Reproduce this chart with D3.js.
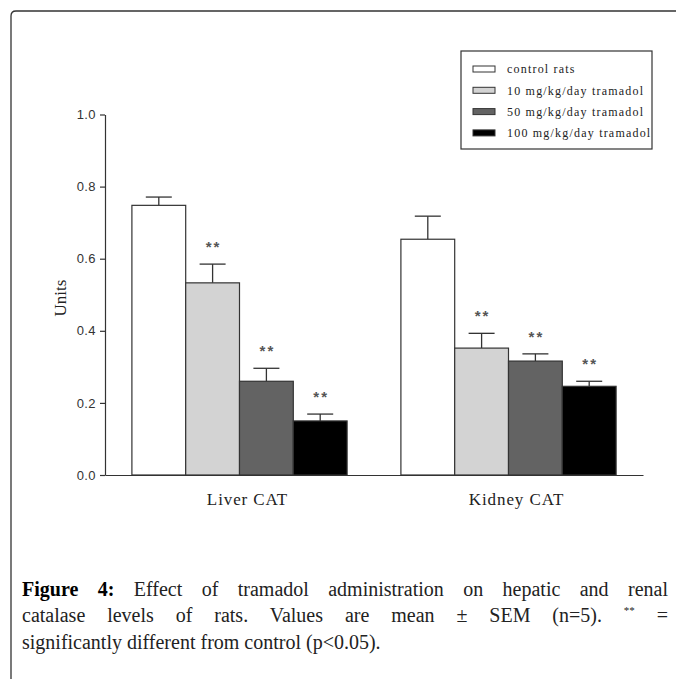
<!DOCTYPE html>
<html>
<head>
<meta charset="utf-8">
<script src="https://cdn.jsdelivr.net/npm/d3@7"></script>
<style>
  body { margin: 0; background: #fff; }
  svg { display: block; }
</style>
</head>
<body>
<script>
// data
var groups = ["Liver CAT", "Kidney CAT"];
var treatments = ["control rats", "10 mg/kg/day tramadol", "50 mg/kg/day tramadol", "100 mg/kg/day tramadol"];
var liverMean = [0.748, 0.533, 0.260, 0.150];
var liverSem = [0.023, 0.052, 0.036, 0.019];
var kidneyMean = [0.654, 0.352, 0.316, 0.246];
var kidneySem = [0.064, 0.041, 0.020, 0.014];
var signif = [false, true, true, true];
var yTicks = [0, 0.2, 0.4, 0.6, 0.8, 1.0];
var fills = ["#ffffff", "#d3d3d3", "#636363", "#000000"];

var captionLines = [
  "Effect of tramadol administration on hepatic and renal",
  "catalase levels of rats. Values are mean ± SEM (n=5).",
  "significantly different from control (p<0.05)."
];

var W = 676, H = 679;
var svg = d3.select("body").append("svg").attr("width", W).attr("height", H);

// frame (top + left with rounded corner)
svg.append("path")
  .attr("d", "M11,679 L11,16 Q11,11 16,11 L676,11")
  .attr("fill", "none").attr("stroke", "#333").attr("stroke-width", 1.3);

var rows = [];
groups.forEach(function(g, gi) {
  var m = gi == 0 ? liverMean : kidneyMean;
  var s = gi == 0 ? liverSem : kidneySem;
  treatments.forEach(function(t, ti) {
    rows.push({group: g, t: t, ti: ti, mean: m[ti], sem: s[ti], sig: signif[ti]});
  });
});

var y = d3.scaleLinear().domain([0, 1]).range([475, 114.5]);
var x0 = d3.scaleBand().domain(groups).range([105, 643]).paddingInner(0.2).paddingOuter(0.1);
var x1 = d3.scaleBand().domain(treatments).range([0, x0.bandwidth()]);

// y axis
var yAxis = svg.append("g").attr("transform", "translate(105,0)")
  .call(d3.axisLeft(y).tickValues(yTicks).tickFormat(d3.format(".1f")).tickSize(5).tickSizeOuter(0));
yAxis.select(".domain").attr("stroke", "#333").attr("stroke-width", 1.2);
yAxis.selectAll(".tick line").attr("stroke", "#333").attr("stroke-width", 1.2);
yAxis.selectAll(".tick text")
  .attr("font-family", "Liberation Sans, Arial, sans-serif").attr("font-size", 13)
  .attr("letter-spacing", 0.4)
  .attr("fill", "#333").attr("x", -9);

// x axis
var xAxis = svg.append("g").attr("transform", "translate(0,475)")
  .call(d3.axisBottom(x0).tickSize(0).tickSizeOuter(0));
xAxis.select(".domain").attr("stroke", "#333").attr("stroke-width", 1.2);
xAxis.selectAll(".tick text")
  .attr("font-family", "Liberation Serif, Times New Roman, serif").attr("font-size", 17)
  .attr("letter-spacing", 0.9)
  .attr("fill", "#222").attr("dx", 8).attr("dy", "1.6em");

// y label
svg.append("text")
  .attr("transform", "translate(66,298) rotate(-90)")
  .attr("text-anchor", "middle")
  .attr("font-family", "Liberation Serif, Times New Roman, serif").attr("font-size", 17)
  .attr("fill", "#222").text("Units");

// bars
var bars = svg.append("g").selectAll("g").data(rows).enter().append("g")
  .attr("transform", function(d) { return "translate(" + (x0(d.group) + x1(d.t)) + ",0)"; });

var bw = x1.bandwidth();
bars.append("line")
  .attr("x1", bw / 2).attr("x2", bw / 2)
  .attr("y1", function(d) { return y(d.mean); })
  .attr("y2", function(d) { return y(d.mean + d.sem); })
  .attr("stroke", "#333").attr("stroke-width", 1.3);
bars.append("line")
  .attr("x1", bw / 2 - 13).attr("x2", bw / 2 + 13)
  .attr("y1", function(d) { return y(d.mean + d.sem); })
  .attr("y2", function(d) { return y(d.mean + d.sem); })
  .attr("stroke", "#333").attr("stroke-width", 1.3);
bars.append("rect")
  .attr("x", 0).attr("width", bw)
  .attr("y", function(d) { return y(d.mean); })
  .attr("height", function(d) { return y(0) - y(d.mean); })
  .attr("fill", function(d) { return fills[d.ti]; })
  .attr("stroke", "#333").attr("stroke-width", 1.2);
bars.filter(function(d) { return d.sig; }).append("text")
  .attr("x", bw / 2 + 1)
  .attr("y", function(d) { return y(d.mean + d.sem) - 12; })
  .attr("text-anchor", "middle")
  .attr("font-family", "Liberation Sans, Arial, sans-serif").attr("font-size", 15)
  .attr("font-weight", "bold")
  .attr("letter-spacing", 2)
  .attr("fill", "#555").text("**");

// legend
var lg = svg.append("g").attr("transform", "translate(461,51)");
lg.append("rect").attr("width", 191).attr("height", 98)
  .attr("fill", "#fff").attr("stroke", "#333").attr("stroke-width", 1.2);
var li = lg.selectAll("g.item").data(treatments).enter().append("g")
  .attr("class", "item")
  .attr("transform", function(d, i) { return "translate(12," + (15 + i * 21.3) + ")"; });
li.append("rect").attr("width", 22).attr("height", 6)
  .attr("fill", function(d, i) { return fills[i]; })
  .attr("stroke", "#333").attr("stroke-width", 1);
li.append("text").attr("x", 34).attr("y", 3).attr("dy", "0.35em")
  .attr("font-family", "Liberation Serif, Times New Roman, serif").attr("font-size", 12)
  .attr("letter-spacing", 1.2)
  .attr("fill", "#222").text(function(d) { return d; });

// caption
var capFont = "Liberation Serif, Times New Roman, serif";
var capLeft = 22, capRight = 668, capSize = 20;
var baselines = [596, 622, 649];

var c1 = svg.append("text").attr("x", capLeft).attr("y", baselines[0])
  .attr("font-family", capFont).attr("font-size", capSize).attr("fill", "#222");
c1.append("tspan").attr("font-weight", "bold").attr("fill", "#000").text("Figure 4:");
c1.append("tspan").text(" " + captionLines[0]);

var c2 = svg.append("text").attr("x", capLeft).attr("y", baselines[1])
  .attr("font-family", capFont).attr("font-size", capSize).attr("fill", "#222");
c2.append("tspan").text(captionLines[1] + " ");
c2.append("tspan").attr("font-size", 11).attr("dy", -8).text("**");
c2.append("tspan").attr("dy", 8).text(" =");

svg.append("text").attr("x", capLeft).attr("y", baselines[2])
  .attr("font-family", capFont).attr("font-size", capSize).attr("fill", "#222")
  .text(captionLines[2]);

// justify the first two lines
[c1, c2].forEach(function(t) {
  var natural = t.node().getComputedTextLength();
  var txt = t.text();
  var gaps = txt.split(" ").length - 1;
  t.attr("word-spacing", (capRight - capLeft - natural) / gaps);
});
</script>
</body>
</html>
